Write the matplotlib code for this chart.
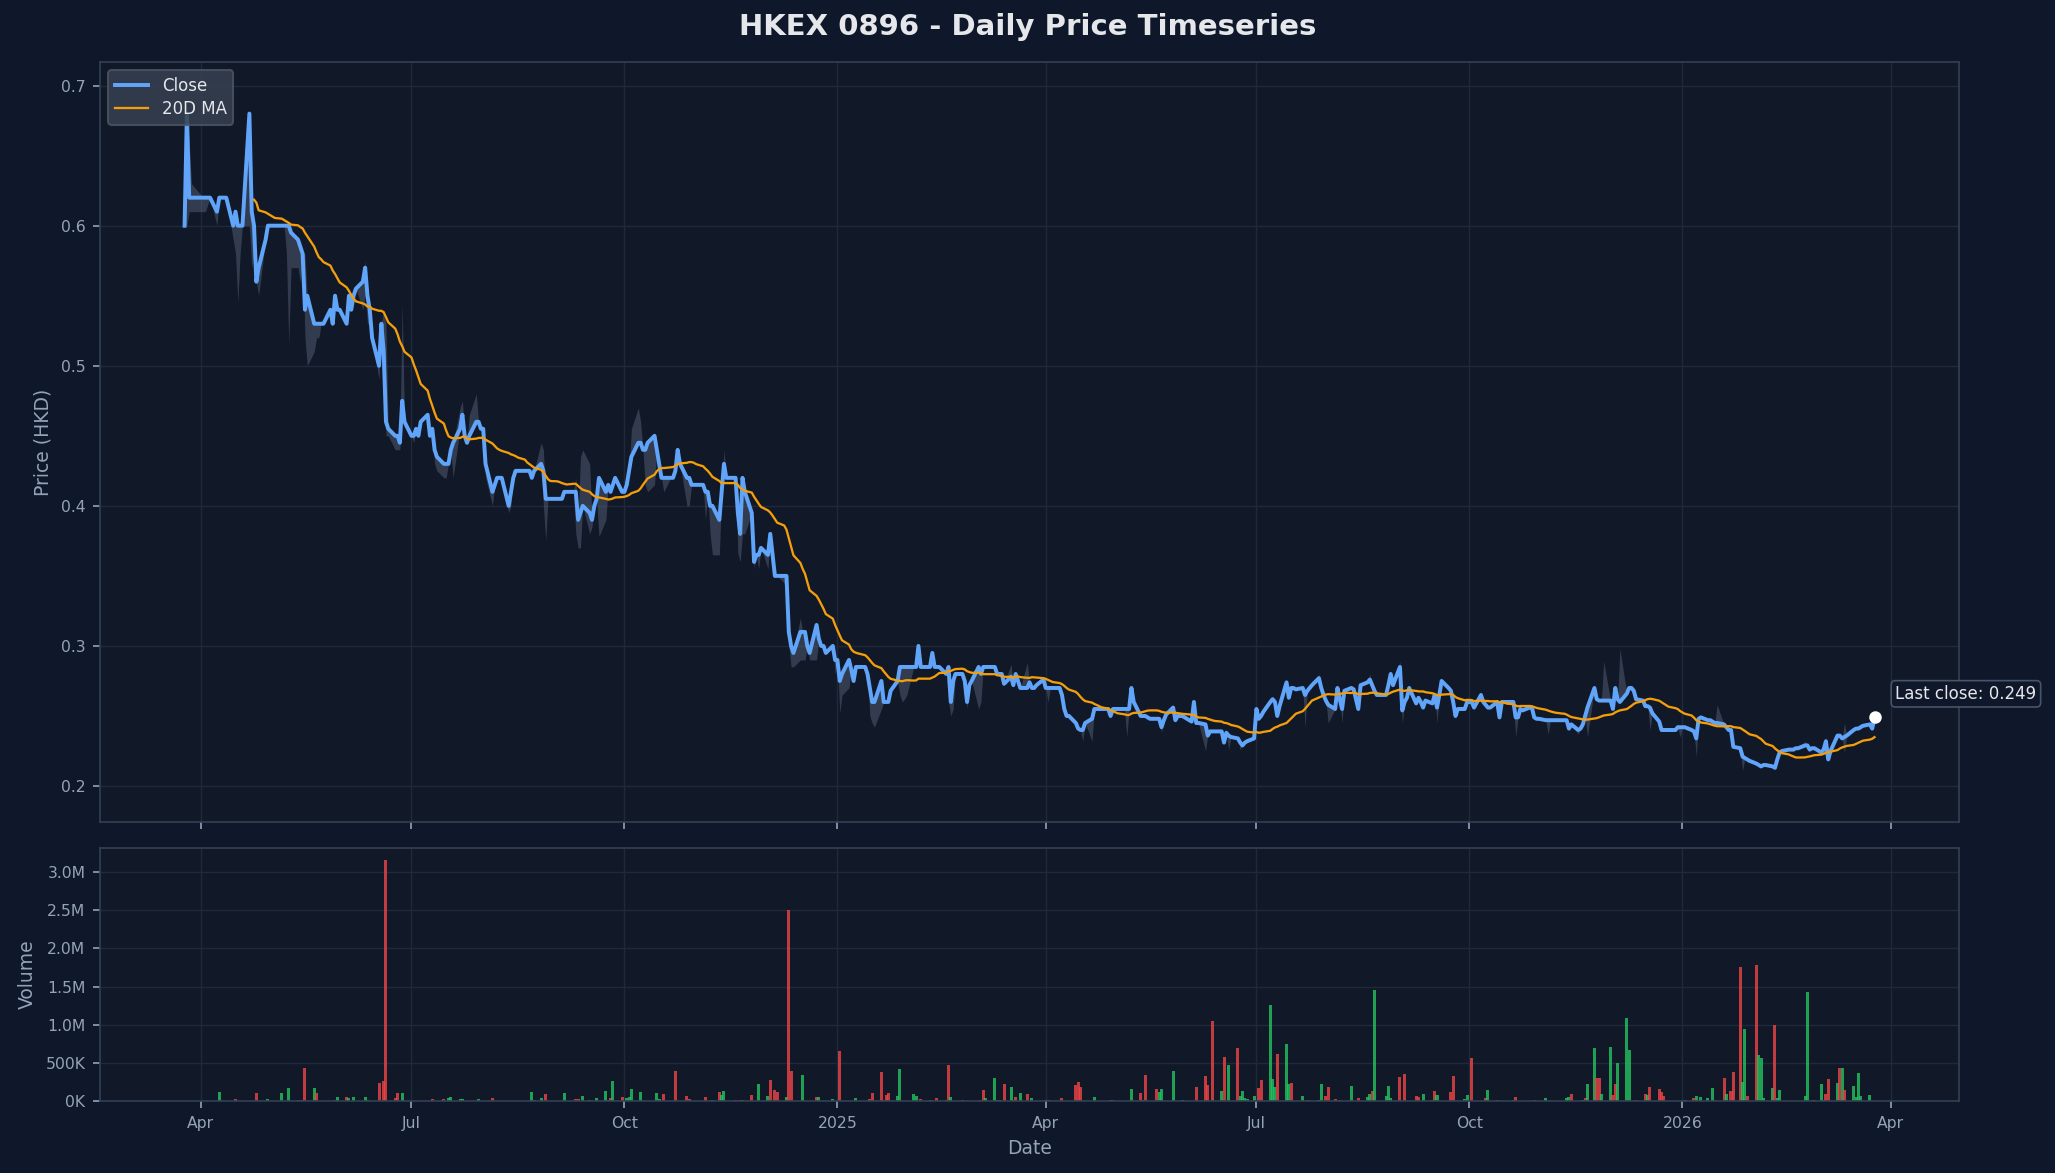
import numpy as np
import pandas as pd
import matplotlib
matplotlib.use("Agg")
import matplotlib.pyplot as plt
import matplotlib.dates as mdates
from matplotlib.ticker import FuncFormatter

# ---- data ----
first_day = "2024-03-25"
market_holidays = ["2024-03-29", "2024-04-01", "2024-04-04"]
months = [
    "2024-03", "2024-04", "2024-05", "2024-06", "2024-07", "2024-08", "2024-09",
    "2024-10", "2024-11", "2024-12", "2025-01", "2025-02", "2025-03", "2025-04",
    "2025-05", "2025-06", "2025-07", "2025-08", "2025-09", "2025-10", "2025-11",
    "2025-12", "2026-01", "2026-02", "2026-03",
]
# daily closes (HKD), one list per month, trading days in order
monthly_close = [
    [0.60, 0.68, 0.62, 0.62],
    [0.62, 0.62, 0.62, 0.61, 0.62, 0.62, 0.62, 0.62, 0.60, 0.61, 0.60, 0.60, 0.60,
     0.68, 0.61, 0.60, 0.56, 0.57, 0.59, 0.60],
    [0.60, 0.60, 0.60, 0.60, 0.60, 0.60, 0.60, 0.595, 0.59, 0.585, 0.58, 0.54, 0.55, 0.53, 0.53,
     0.53, 0.53, 0.53, 0.54, 0.53, 0.55, 0.54, 0.54],
    [0.53, 0.55, 0.54, 0.55, 0.555, 0.56, 0.57, 0.55, 0.54, 0.52, 0.50, 0.53, 0.51, 0.46, 0.455,
     0.45, 0.45, 0.445, 0.475, 0.46],
    [0.45, 0.45, 0.455, 0.45, 0.46, 0.465, 0.45, 0.455, 0.44, 0.435, 0.43, 0.43, 0.43, 0.44, 0.445,
     0.455, 0.465, 0.45, 0.445, 0.45, 0.46, 0.46, 0.455],
    [0.455, 0.43, 0.41, 0.415, 0.42, 0.42, 0.42, 0.40, 0.41, 0.42, 0.425, 0.425, 0.425, 0.425, 0.425,
     0.42, 0.425, 0.43, 0.425, 0.405, 0.405, 0.405],
    [0.405, 0.405, 0.405, 0.41, 0.41, 0.41, 0.41, 0.39, 0.395, 0.40, 0.395, 0.39, 0.40, 0.405, 0.42,
     0.41, 0.415, 0.41, 0.415, 0.42, 0.41],
    [0.41, 0.415, 0.425, 0.435, 0.445, 0.445, 0.44, 0.44, 0.445, 0.45, 0.44, 0.43, 0.42, 0.42, 0.42,
     0.42, 0.425, 0.44, 0.43, 0.42, 0.42, 0.415, 0.415],
    [0.415, 0.415, 0.41, 0.41, 0.40, 0.40, 0.39, 0.41, 0.43, 0.42, 0.42, 0.42, 0.395, 0.38, 0.42,
     0.41, 0.395, 0.36, 0.365, 0.365, 0.37],
    [0.365, 0.38, 0.365, 0.35, 0.35, 0.35, 0.35, 0.31, 0.30, 0.295, 0.31, 0.31, 0.31, 0.30, 0.295,
     0.315, 0.305, 0.30, 0.30, 0.295, 0.30, 0.29],
    [0.29, 0.275, 0.28, 0.29, 0.283, 0.275, 0.285, 0.285, 0.285, 0.28, 0.27, 0.26, 0.26, 0.275, 0.26,
     0.26, 0.26, 0.268, 0.275, 0.285, 0.285, 0.285, 0.285],
    [0.285, 0.285, 0.30, 0.285, 0.285, 0.285, 0.295, 0.285, 0.285, 0.285, 0.28, 0.285, 0.26, 0.275,
     0.28, 0.28, 0.275, 0.26, 0.272, 0.275],
    [0.285, 0.28, 0.285, 0.285, 0.285, 0.285, 0.28, 0.28, 0.28, 0.273, 0.278, 0.272, 0.28, 0.275,
     0.27, 0.27, 0.274, 0.27, 0.27, 0.272, 0.276],
    [0.27, 0.27, 0.27, 0.27, 0.27, 0.265, 0.255, 0.25, 0.25, 0.245, 0.241, 0.24, 0.24, 0.245, 0.248,
     0.255, 0.255, 0.255, 0.255, 0.255, 0.25, 0.255],
    [0.255, 0.255, 0.255, 0.255, 0.255, 0.27, 0.26, 0.25, 0.25, 0.25, 0.249, 0.248, 0.248, 0.248,
     0.242, 0.247, 0.251, 0.256, 0.247, 0.25, 0.25, 0.25],
    [0.247, 0.246, 0.26, 0.245, 0.245, 0.244, 0.236, 0.239, 0.239, 0.239, 0.239, 0.231, 0.238, 0.236,
     0.235, 0.234, 0.231, 0.229, 0.231, 0.232, 0.234],
    [0.255, 0.248, 0.25, 0.253, 0.26, 0.262, 0.26, 0.25, 0.257, 0.274, 0.263, 0.27, 0.27, 0.269, 0.27,
     0.265, 0.268, 0.27, 0.272, 0.277, 0.27, 0.265, 0.261],
    [0.258, 0.255, 0.27, 0.262, 0.255, 0.268, 0.27, 0.269, 0.262, 0.255, 0.272, 0.274, 0.276, 0.272,
     0.268, 0.265, 0.265, 0.265, 0.272, 0.28, 0.272],
    [0.285, 0.254, 0.26, 0.263, 0.27, 0.259, 0.263, 0.26, 0.256, 0.261, 0.259, 0.265, 0.256, 0.265,
     0.275, 0.27, 0.268, 0.26, 0.25, 0.255, 0.255, 0.26],
    [0.26, 0.26, 0.256, 0.265, 0.26, 0.258, 0.256, 0.256, 0.26, 0.249, 0.26, 0.26, 0.26, 0.26, 0.249,
     0.249, 0.255, 0.254, 0.256, 0.256, 0.249, 0.248, 0.248],
    [0.247, 0.247, 0.247, 0.247, 0.247, 0.247, 0.247, 0.247, 0.241, 0.244, 0.24, 0.241, 0.244, 0.25,
     0.256, 0.27, 0.262, 0.261, 0.261, 0.261],
    [0.261, 0.255, 0.27, 0.262, 0.26, 0.266, 0.27, 0.27, 0.268, 0.262, 0.261, 0.257, 0.257, 0.256,
     0.252, 0.246, 0.24, 0.24, 0.24, 0.24, 0.24, 0.242, 0.242],
    [0.242, 0.242, 0.24, 0.239, 0.234, 0.248, 0.249, 0.247, 0.247, 0.246, 0.245, 0.245, 0.244, 0.242,
     0.24, 0.24, 0.228, 0.227, 0.221, 0.22, 0.219, 0.218],
    [0.216, 0.215, 0.214, 0.215, 0.215, 0.214, 0.213, 0.219, 0.224, 0.225, 0.226, 0.226, 0.226, 0.227,
     0.227, 0.229, 0.229, 0.226, 0.227, 0.227],
    [0.224, 0.226, 0.232, 0.219, 0.225, 0.236, 0.236, 0.234, 0.235, 0.236, 0.24, 0.241, 0.241, 0.242,
     0.243, 0.244, 0.241, 0.249],
]

# intraday low / high where they leave the close (nan = same as close)
nan = np.nan
range_dates = [
    "2024-03-26", "2024-03-27", "2024-03-28", "2024-04-02", "2024-04-03", "2024-04-08",
    "2024-04-15", "2024-04-16", "2024-04-17", "2024-04-18", "2024-04-22", "2024-04-23",
    "2024-04-24", "2024-04-26", "2024-05-08", "2024-05-09", "2024-05-10", "2024-05-13",
    "2024-05-14", "2024-05-16", "2024-05-17", "2024-05-20", "2024-05-21", "2024-05-22",
    "2024-06-10", "2024-06-11", "2024-06-12", "2024-06-13", "2024-06-17", "2024-06-19",
    "2024-06-20", "2024-06-21", "2024-06-24", "2024-06-25", "2024-06-26", "2024-06-27",
    "2024-07-02", "2024-07-11", "2024-07-12", "2024-07-15", "2024-07-16", "2024-07-19",
    "2024-07-22", "2024-07-23", "2024-07-26", "2024-07-29", "2024-08-02", "2024-08-05",
    "2024-08-12", "2024-08-13", "2024-08-26", "2024-08-27", "2024-08-28", "2024-09-10",
    "2024-09-11", "2024-09-12", "2024-09-13", "2024-09-16", "2024-09-17", "2024-09-20",
    "2024-09-23", "2024-10-04", "2024-10-07", "2024-10-08", "2024-10-10", "2024-10-11",
    "2024-10-14", "2024-10-18", "2024-10-28", "2024-10-29", "2024-11-05", "2024-11-07",
    "2024-11-08", "2024-11-11", "2024-11-13", "2024-11-19", "2024-11-20", "2024-11-21",
    "2024-11-22", "2024-11-26", "2024-11-28", "2024-12-02", "2024-12-09", "2024-12-10",
    "2024-12-11", "2024-12-12", "2024-12-13", "2024-12-16", "2024-12-17", "2024-12-18",
    "2024-12-20", "2024-12-23", "2024-12-31", "2025-01-02", "2025-01-03", "2025-01-06",
    "2025-01-15", "2025-01-16", "2025-01-17", "2025-01-20", "2025-01-28", "2025-01-29",
    "2025-01-30", "2025-01-31", "2025-02-18", "2025-02-19", "2025-02-20", "2025-02-26",
    "2025-03-03", "2025-03-04", "2025-03-17", "2025-03-24", "2025-04-02", "2025-04-17",
    "2025-04-21", "2025-05-06", "2025-05-21", "2025-06-04", "2025-06-09", "2025-06-19",
    "2025-06-24", "2025-07-22", "2025-07-28", "2025-08-01", "2025-08-07", "2025-08-19",
    "2025-08-28", "2025-09-01", "2025-09-02", "2025-09-17", "2025-10-21", "2025-11-04",
    "2025-11-17", "2025-11-21", "2025-11-28", "2025-12-05", "2025-12-18", "2025-12-31",
    "2026-01-07", "2026-01-09", "2026-01-16", "2026-01-27", "2026-02-23", "2026-03-04",
    "2026-03-12",
]
range_low = [
    0.60, 0.61, 0.61, 0.61, 0.61, 0.60,
    0.59, 0.58, 0.545, 0.58, 0.60, 0.57,
    0.58, 0.55, 0.58, 0.515, 0.57, 0.57,
    0.56, 0.52, 0.50, 0.51, 0.52, 0.52,
    0.54, 0.55, 0.53, 0.53, 0.49, nan,
    0.45, 0.45, 0.44, 0.44, 0.44, nan,
    0.445, 0.43, 0.425, 0.42, 0.42, 0.42,
    nan, nan, nan, nan, 0.42, 0.40,
    0.395, 0.40, nan, 0.40, 0.375, 0.38,
    0.37, 0.37, nan, 0.38, 0.385, 0.378,
    0.39, nan, nan, nan, 0.415, 0.41,
    0.415, 0.41, 0.40, 0.40, 0.39, 0.38,
    0.365, 0.365, nan, 0.366, 0.36, 0.38,
    0.38, 0.355, 0.355, 0.355, 0.345, 0.34,
    0.30, 0.285, 0.285, 0.29, 0.29, 0.29,
    0.29, 0.29, 0.28, 0.252, 0.265, 0.27,
    0.25, 0.245, 0.242, 0.255, 0.265, 0.26,
    0.262, 0.265, 0.26, 0.25, 0.255, 0.255,
    0.255, 0.26, nan, nan, 0.26, 0.232,
    0.232, 0.235, 0.238, nan, 0.225, 0.226,
    0.226, 0.242, nan, 0.245, 0.245, nan,
    nan, nan, 0.244, 0.245, 0.235, 0.237,
    0.237, 0.235, nan, nan, 0.24, 0.235,
    0.221, nan, nan, 0.211, nan, 0.22,
    0.224,
]
range_high = [
    nan, 0.66, 0.63, nan, nan, nan,
    nan, nan, nan, nan, nan, nan,
    nan, nan, nan, nan, nan, nan,
    nan, 0.58, nan, nan, nan, nan,
    nan, 0.575, nan, nan, nan, 0.54,
    0.53, nan, nan, nan, nan, 0.545,
    nan, nan, nan, nan, nan, nan,
    0.47, 0.475, 0.465, 0.48, nan, nan,
    nan, nan, 0.445, 0.44, nan, 0.42,
    nan, 0.435, 0.44, 0.43, nan, nan,
    nan, 0.455, 0.47, 0.46, nan, nan,
    nan, nan, nan, nan, nan, nan,
    nan, nan, 0.44, nan, nan, nan,
    nan, nan, nan, nan, nan, nan,
    nan, nan, nan, 0.32, nan, nan,
    nan, nan, nan, nan, nan, nan,
    nan, nan, nan, nan, nan, nan,
    nan, nan, nan, nan, nan, nan,
    nan, nan, 0.287, 0.288, nan, nan,
    nan, nan, nan, 0.262, nan, nan,
    nan, nan, 0.28, nan, nan, 0.28,
    0.282, 0.289, nan, nan, nan, nan,
    nan, nan, 0.289, 0.298, nan, nan,
    nan, 0.25, 0.258, nan, 0.232, 0.235,
    0.245,
]

# traded volume in thousands of shares; 1 = up day (green), 0 = down day (red)
vol_dates = [
    "2024-04-09", "2024-04-16", "2024-04-25", "2024-04-30", "2024-05-06", "2024-05-09",
    "2024-05-13", "2024-05-15", "2024-05-16", "2024-05-20", "2024-05-21", "2024-05-29",
    "2024-05-30", "2024-06-03", "2024-06-04", "2024-06-06", "2024-06-11", "2024-06-12",
    "2024-06-17", "2024-06-19", "2024-06-20", "2024-06-24", "2024-06-25", "2024-06-27",
    "2024-07-10", "2024-07-15", "2024-07-17", "2024-07-18", "2024-07-22", "2024-07-23",
    "2024-07-30", "2024-08-05", "2024-08-22", "2024-08-23", "2024-08-26", "2024-08-28",
    "2024-09-05", "2024-09-10", "2024-09-11", "2024-09-13", "2024-09-16", "2024-09-19",
    "2024-09-23", "2024-09-24", "2024-09-25", "2024-09-26", "2024-09-30", "2024-10-02",
    "2024-10-03", "2024-10-04", "2024-10-08", "2024-10-15", "2024-10-16", "2024-10-18",
    "2024-10-23", "2024-10-28", "2024-10-29", "2024-11-05", "2024-11-08", "2024-11-11",
    "2024-11-12", "2024-11-13", "2024-11-18", "2024-11-20", "2024-11-21", "2024-11-25",
    "2024-11-28", "2024-12-02", "2024-12-03", "2024-12-05", "2024-12-06", "2024-12-10",
    "2024-12-11", "2024-12-12", "2024-12-17", "2024-12-23", "2024-12-24", "2024-12-30",
    "2025-01-02", "2025-01-09", "2025-01-15", "2025-01-16", "2025-01-20", "2025-01-21",
    "2025-01-22", "2025-01-23", "2025-01-27", "2025-01-28", "2025-02-03", "2025-02-04",
    "2025-02-06", "2025-02-10", "2025-02-13", "2025-02-17", "2025-02-18", "2025-02-19",
    "2025-02-24", "2025-03-04", "2025-03-05", "2025-03-06", "2025-03-10", "2025-03-11",
    "2025-03-12", "2025-03-14", "2025-03-17", "2025-03-18", "2025-03-19", "2025-03-21",
    "2025-03-24", "2025-03-26", "2025-04-01", "2025-04-02", "2025-04-08", "2025-04-14",
    "2025-04-15", "2025-04-16", "2025-04-22", "2025-04-29", "2025-04-30", "2025-05-08",
    "2025-05-12", "2025-05-13", "2025-05-14", "2025-05-19", "2025-05-20", "2025-05-21",
    "2025-05-26", "2025-05-30", "2025-06-05", "2025-06-09", "2025-06-10", "2025-06-12",
    "2025-06-16", "2025-06-17", "2025-06-19", "2025-06-23", "2025-06-24", "2025-06-25",
    "2025-06-26", "2025-06-27", "2025-06-30", "2025-07-02", "2025-07-03", "2025-07-07",
    "2025-07-08", "2025-07-09", "2025-07-10", "2025-07-14", "2025-07-15", "2025-07-16",
    "2025-07-21", "2025-07-23", "2025-07-28", "2025-07-29", "2025-07-31", "2025-08-01",
    "2025-08-04", "2025-08-06", "2025-08-11", "2025-08-14", "2025-08-18", "2025-08-19",
    "2025-08-20", "2025-08-21", "2025-08-26", "2025-08-27", "2025-08-28", "2025-09-01",
    "2025-09-03", "2025-09-08", "2025-09-09", "2025-09-11", "2025-09-15", "2025-09-16",
    "2025-09-17", "2025-09-23", "2025-09-24", "2025-09-29", "2025-09-30", "2025-10-02",
    "2025-10-08", "2025-10-09", "2025-10-13", "2025-10-20", "2025-10-21", "2025-10-29",
    "2025-11-03", "2025-11-12", "2025-11-13", "2025-11-14", "2025-11-19", "2025-11-20",
    "2025-11-21", "2025-11-24", "2025-11-25", "2025-11-26", "2025-11-27", "2025-12-01",
    "2025-12-02", "2025-12-03", "2025-12-04", "2025-12-08", "2025-12-09", "2025-12-12",
    "2025-12-16", "2025-12-17", "2025-12-18", "2025-12-22", "2025-12-23", "2025-12-24",
    "2026-01-02", "2026-01-06", "2026-01-07", "2026-01-08", "2026-01-09", "2026-01-12",
    "2026-01-14", "2026-01-15", "2026-01-19", "2026-01-20", "2026-01-22", "2026-01-23",
    "2026-01-26", "2026-01-27", "2026-01-28", "2026-01-29", "2026-02-02", "2026-02-03",
    "2026-02-04", "2026-02-05", "2026-02-09", "2026-02-10", "2026-02-11", "2026-02-12",
    "2026-02-23", "2026-02-24", "2026-02-26", "2026-02-27", "2026-03-02", "2026-03-03",
    "2026-03-04", "2026-03-05", "2026-03-09", "2026-03-10", "2026-03-11", "2026-03-12",
    "2026-03-16", "2026-03-17", "2026-03-18", "2026-03-19", "2026-03-23",
]
vol_k = [
    120, 20, 105, 30, 105, 170, 10, 10, 430, 170, 100, 10,
    50, 50, 40, 50, 50, 10, 240, 260, 3160, 40, 100, 100,
    25, 25, 40, 50, 25, 25, 25, 40, 120, 10, 40, 90,
    105, 25, 25, 65, 10, 40, 130, 10, 40, 260, 50, 40,
    50, 160, 120, 100, 25, 90, 390, 65, 25, 50, 10, 120,
    80, 130, 10, 10, 10, 80, 220, 65, 280, 145, 120, 50,
    2510, 390, 340, 50, 50, 25,
    660, 40, 25, 105, 380, 10, 80, 100, 65, 420, 90, 65,
    25, 10, 40, 10, 470, 50, 10, 10, 145, 40, 300, 10,
    10, 220, 180, 10, 50, 100, 90, 40, 10, 10, 40, 210,
    250, 180, 50, 10, 10, 160, 100, 10, 340, 160, 120, 160,
    390, 10, 180, 330, 210, 1050, 130, 580, 470, 700, 65, 130,
    40, 20, 65, 170, 280, 1260, 290, 180, 620, 750, 220, 240,
    65, 10, 10, 220, 65, 180, 25, 10, 200, 40, 50, 90,
    130, 1460, 65, 200, 40, 320, 360, 65, 50, 90, 10, 130,
    80, 120, 330, 25, 80, 570, 40, 145, 10, 10, 50, 10,
    40, 40, 50, 90, 10, 40, 220, 700, 300, 300, 90, 710,
    80, 220, 500, 1090, 670, 10, 90, 80, 180, 160, 120, 65,
    10, 40, 65, 10, 50, 40, 170, 10, 300, 90, 130, 380,
    1760, 250, 950, 65, 1780, 600, 570, 40, 170, 990, 40, 145,
    65, 1430, 10, 10, 220, 10, 90, 290, 240, 430, 430, 145,
    200, 50, 370, 65, 80,
]
vol_up = [
    1, 0, 0, 1, 1, 1, 0, 0, 0, 1, 0, 1,
    1, 0, 1, 1, 1, 1, 0, 0, 0, 0, 0, 1,
    0, 0, 1, 1, 1, 1, 1, 0, 1, 1, 1, 0,
    1, 0, 0, 1, 1, 1, 1, 0, 0, 1, 0, 1,
    1, 1, 1, 1, 1, 0, 0, 0, 0, 0, 1, 0,
    1, 1, 0, 0, 1, 0, 1, 1, 0, 0, 0, 1,
    0, 0, 1, 0, 1, 1,
    0, 1, 0, 0, 0, 1, 0, 0, 1, 1, 1, 1,
    0, 1, 0, 1, 0, 1, 0, 0, 0, 1, 1, 1,
    1, 0, 1, 1, 0, 1, 0, 1, 0, 1, 0, 0,
    0, 0, 1, 0, 1, 1, 0, 1, 0, 0, 1, 1,
    1, 1, 0, 0, 0, 0, 1, 0, 1, 0, 1, 1,
    1, 1, 1, 0, 0, 1, 1, 1, 0, 1, 1, 0,
    1, 1, 1, 1, 0, 0, 0, 0, 1, 0, 1, 1,
    0, 1, 1, 1, 1, 0, 0, 0, 0, 1, 1, 0,
    1, 0, 0, 1, 1, 0, 0, 1, 0, 1, 0, 0,
    1, 1, 1, 0, 1, 0, 1, 1, 0, 0, 1, 1,
    0, 0, 1, 1, 1, 0, 0, 1, 0, 0, 0, 0,
    1, 0, 1, 0, 1, 1, 1, 0, 0, 1, 0, 0,
    0, 1, 1, 0, 0, 1, 1, 1, 1, 0, 1, 1,
    1, 1, 0, 0, 1, 1, 0, 0, 1, 0, 1, 0,
    1, 1, 1, 1, 1,
]

title = "HKEX 0896 - Daily Price Timeseries"

# ---- assemble the daily frame ----
start = pd.Timestamp(first_day)
hol = pd.to_datetime(market_holidays)
days, closes = [], []
for m, vals in zip(months, monthly_close):
    m0 = pd.Timestamp(m + "-01")
    bd = pd.bdate_range(m0, m0 + pd.offsets.MonthEnd(0))
    bd = bd[(bd >= start) & (~bd.isin(hol))][:len(vals)]
    days.extend(bd)
    closes.extend(vals[:len(bd)])

df = pd.DataFrame({"close": closes}, index=pd.DatetimeIndex(days))
df["high"] = df["close"]
df["low"] = df["close"]
for d, lo, hi in zip(pd.to_datetime(range_dates), range_low, range_high):
    if d in df.index:
        if not np.isnan(lo):
            df.loc[d, "low"] = min(lo, df.loc[d, "close"])
        if not np.isnan(hi):
            df.loc[d, "high"] = max(hi, df.loc[d, "close"])
df["ma20"] = df["close"].rolling(20).mean()

vdates = pd.to_datetime(vol_dates)
vvals = np.array(vol_k) * 1000.0

# ---- style ----
BG = "#0f172a"
AX_BG = "#111827"
SPINE = "#334155"
GRID = "#1e293b"
TXT = "#94a3b8"
BLUE = "#60a5fa"
ORANGE = "#f59e0b"
GREEN = "#22c55e"
RED = "#ef4444"

fig = plt.figure(figsize=(13.7, 7.82), dpi=150, facecolor=BG)
ax = fig.add_axes([0.0487, 0.2992, 0.9046, 0.6479])
axv = fig.add_axes([0.0487, 0.0614, 0.9046, 0.2157], sharex=ax)

for a in (ax, axv):
    a.set_facecolor(AX_BG)
    for s in a.spines.values():
        s.set_color(SPINE)
    a.tick_params(colors=TXT, labelsize=7.5)
    a.grid(True, color=GRID, linewidth=0.7)
    a.set_axisbelow(True)

# price panel
ax.fill_between(df.index, df["low"], df["high"], color="#64748b", alpha=0.4, linewidth=0)
ax.plot(df.index, df["close"], color=BLUE, linewidth=1.9, label="Close", zorder=3)
ax.plot(df.index, df["ma20"], color=ORANGE, linewidth=1.1, label="20D MA", zorder=4)

last_d = df.index[-1]
last_c = df["close"].iloc[-1]
ax.plot([last_d], [last_c], "o", color="white", markersize=5, zorder=5)
ax.annotate(f"Last close: {last_c:.3f}", xy=(last_d, last_c), xytext=(10, 7),
            textcoords="offset points", ha="left", va="bottom", fontsize=8,
            color="#e5e7eb", annotation_clip=False,
            bbox=dict(boxstyle="round,pad=0.25", fc=BG, ec="#475569", lw=0.8))

ax.set_ylim(0.1743, 0.7168)
ax.set_ylabel("Price (HKD)", color=TXT, fontsize=9)
ax.tick_params(labelbottom=False)
ax.legend(loc="upper left", fontsize=8, facecolor="#374151", edgecolor="#4b5563",
          framealpha=0.85, labelcolor="#e5e7eb", labelspacing=0.3)

# volume panel
colors = [GREEN if u else RED for u in vol_up]
axv.bar(vdates, vvals, width=1.3, color=colors, alpha=0.8, linewidth=0)
axv.set_ylim(0, max(vvals) * 1.05)
axv.set_ylabel("Volume", color=TXT, fontsize=9)
axv.set_xlabel("Date", color=TXT, fontsize=9)


def vol_fmt(v, pos):
    if v >= 1e6:
        return f"{v / 1e6:.1f}M"
    return f"{v / 1e3:.0f}K"


axv.yaxis.set_major_formatter(FuncFormatter(vol_fmt))


def date_fmt(x, pos):
    d = mdates.num2date(x)
    return str(d.year) if d.month == 1 else d.strftime("%b")


axv.xaxis.set_major_locator(mdates.MonthLocator(bymonth=[1, 4, 7, 10]))
axv.xaxis.set_major_formatter(FuncFormatter(date_fmt))
ax.set_xlim(df.index[0] - pd.Timedelta(days=36.5), df.index[-1] + pd.Timedelta(days=36.5))

fig.text(0.5, 1 - 27 / 1173, title, ha="center", va="center", fontsize=14,
         fontweight="bold", color="#e5e7eb")

fig.savefig("out.png", dpi=150, facecolor=BG)
